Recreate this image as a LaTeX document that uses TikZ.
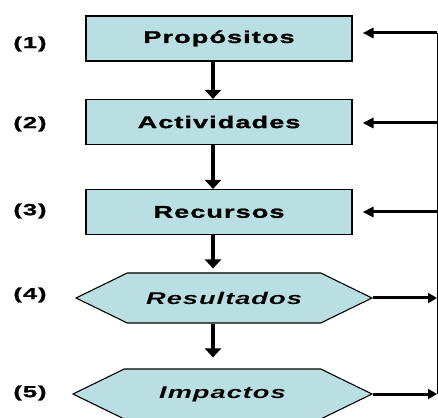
\documentclass[tikz,border=0pt]{standalone}
\usepackage{fontspec}
\setmainfont{Liberation Sans}
\newfontfamily\widefont{Liberation Sans}[FakeStretch=1.6,LetterSpace=6,BoldFeatures={FakeBold=1.3}]
\usetikzlibrary{arrows.meta,shapes.symbols}
\definecolor{paleteal}{RGB}{185,223,227}

\tikzset{
	stage/.style={shape=rectangle,draw=black,line width=1.1pt,fill=paleteal,
		minimum width=266pt,minimum height=45pt,inner sep=0pt,
		font=\widefont\fontsize{17}{17}\selectfont\bfseries},
	result/.style={shape=signal,signal to=west and east,signal pointer angle=52,
		draw=black,line width=1.1pt,fill=paleteal,minimum height=50pt,inner sep=0pt,
		font=\widefont\fontsize{17}{17}\selectfont\bfseries\itshape},
	num/.style={font=\widefont\fontsize{16}{16}\selectfont\bfseries},
	down/.style={-{Triangle[length=9pt,width=16pt]},line width=3.5pt},
	back/.style={-{Triangle[length=11pt,width=10pt]},line width=3pt},
	feed/.style={-{Triangle[length=9pt,width=10pt]},line width=3pt}
}

\begin{document}
\begin{tikzpicture}[x=1pt,y=1pt]
	
	\useasboundingbox (0,0) rectangle (438,417);
	\clip (0,0) rectangle (438,417);
	
	\node[stage] (prop) at (219, 378.5) {Propósitos};
	\node[stage] (act)  at (219, 295)   {Actividades};
	\node[stage] (rec)  at (219, 205)   {Recursos};
	\node[result,minimum width=296pt] (res) at (224, 119) {Resultados};
	\node[result,minimum width=299pt] (imp) at (222.5, 23) {Impactos};
	
	\node[num] (n1) at (30, 373) {(1)};
	\node[num] (n2) at (30, 293) {(2)};
	\node[num] (n3) at (30, 206) {(3)};
	\node[num] (n4) at (30, 122) {(4)};
	\node[num] (n5) at (30, 24)  {(5)};
	
	\coordinate (axis) at (213, 0);
	\coordinate (r1) at (437, 384);
	\coordinate (r2) at (437, 294);
	\coordinate (r3) at (437, 205);
	
	\draw[down] (prop.south -| axis) -- (act.north -| axis);
	\draw[down] (act.south -| axis) -- (rec.north -| axis);
	\draw[down,shorten >=4pt] (rec.south -| axis) -- (res.north -| axis);
	\draw[down,shorten >=11pt] (res.south -| axis) -- (imp.north -| axis);
	
	\draw[line width=0.8pt] (r1) -- (imp.east -| r1);
	\draw[back,shorten >=10pt] (r1) -- (r1 -| prop.east);
	\draw[back,shorten >=10pt] (r2) -- (r2 -| act.east);
	\draw[back,shorten >=10pt] (r3) -- (r3 -| rec.east);
	\draw[feed] (res.east) -- (res.east -| r1);
	\draw[feed] (imp.east) -- (imp.east -| r1);
	%\draw[feed] (imp.south) -- ++(0,-20);
	
\end{tikzpicture}
\end{document}
